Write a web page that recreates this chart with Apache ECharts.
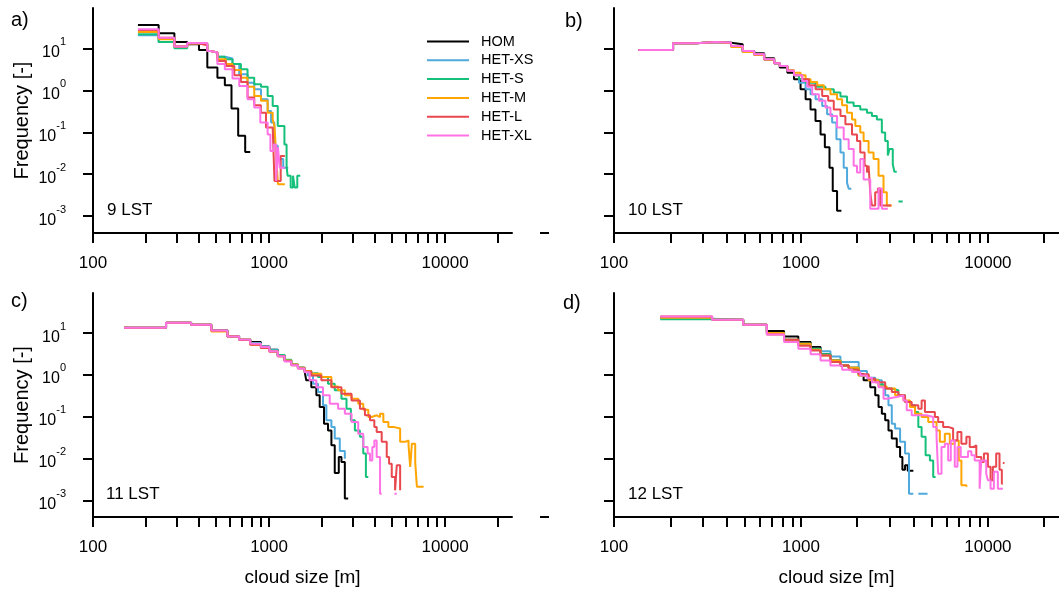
<!DOCTYPE html>
<html><head><meta charset="utf-8">
<script src="https://cdn.jsdelivr.net/npm/echarts@6/dist/echarts.min.js"></script>
<style>html,body{margin:0;padding:0;background:#fff}#c{width:1059px;height:590px}</style>
</head><body><div id="c"></div>
<script>
const seriesNames = ['HOM','HET-XS','HET-S','HET-M','HET-L','HET-XL'];
const seriesColors = ['#000000','#4FA9DC','#15C07B','#FFA500','#E8484E','#FF72E6'];
const panelLabels = ['a)','b)','c)','d)'];
const timeLabels = ['9 LST','10 LST','11 LST','12 LST'];
const xTickValues = [100,200,300,400,500,600,700,800,900,1000,2000,3000,4000,5000,6000,7000,8000,9000,10000,20000];
const xLabelValues = [100,1000,10000];
const yTickExponents = [-3,-2,-1,0,1];
const xRange = [100, 24000];
const yRange = [0.000398, 91.2];

// ---- panel a (9 LST) ----
const a_HOM = [[180,36],[236,22.8],[290,14.1],[343,12.5],[400,9.1],[446,3.47],[509,2.0],[561,1.31],[612,0.37],[668,0.082],[732,0.034],[782,0.034]];
const a_XS = [[180,20.4],[236,14.1],[290,11.0],[343,13.2],[446,8.6],[466,7.9],[509,6.3],[561,5.7],[620,4.2],[677,2.4],[755,1.52],[824,1.06],[900,0.61],[982,0.32],[1027,0.17],[1072,0.048],[1121,0.023],[1204,0.0143],[1285,0.0143]];
const a_S = [[180,21.5],[236,14.1],[290,10],[343,12.8],[446,8.6],[466,7.9],[509,6.3],[561,5.5],[620,4.2],[692,3.16],[755,2.0],[824,1.39],[900,1.22],[982,0.73],[1049,0.42],[1121,0.141],[1223,0.051],[1258,0.016],[1274,0.0092],[1327,0.0048],[1368,0.0092],[1399,0.0048],[1447,0.0092],[1505,0.0092]];
const a_M = [[180,24.5],[236,16.4],[290,11],[343,13],[446,8.6],[466,7.9],[509,5.5],[568,4.2],[620,3.05],[692,2.0],[755,1.22],[824,0.73],[900,0.56],[982,0.29],[1049,0.2],[1074,0.14],[1098,0.027],[1124,0.0058],[1230,0.0058]];
const a_L = [[180,27.3],[236,17.9],[290,11],[343,13],[400,11.8],[446,8.6],[466,7.9],[509,5.0],[568,3.8],[635,2.28],[692,1.58],[755,0.67],[824,0.44],[899,0.29],[961,0.13],[1049,0.13],[1074,0.0069],[1165,0.027],[1230,0.027]];
const a_XL = [[180,28.4],[236,17.9],[290,11],[343,13.4],[446,8.6],[466,7.9],[509,4.2],[561,3.16],[620,1.9],[677,1.27],[755,0.61],[824,0.39],[892,0.17],[982,0.089],[1018,0.036],[1063,0.051],[1098,0.0069],[1124,0.044],[1150,0.0143],[1230,0.0143]];

// ---- panel b (10 LST) ----
const b_HOM = [[135,9.1],[207,13.2],[275,14.1],[352,13.6],[423,12.5],[488,8.6],[562,7.6],[636,5.8],[719,4.4],[770,3.5],[846,2.6],[918,1.83],[995,1.06],[1059,0.61],[1125,0.35],[1196,0.186],[1273,0.089],[1342,0.044],[1421,0.0143],[1479,0.004],[1560,0.00134],[1646,0.00134]];
const b_XS = [[135,9.1],[207,13.2],[275,14.1],[352,13.6],[423,11.4],[488,8.6],[562,7.2],[636,5.5],[719,4.4],[770,3.8],[846,2.9],[918,2.28],[976,1.52],[1059,1.06],[1126,0.8],[1197,0.61],[1299,0.42],[1380,0.27],[1468,0.17],[1548,0.068],[1627,0.033],[1693,0.0143],[1764,0.0063],[1800,0.0045],[1860,0.0045]];
const b_S = [[135,9.1],[207,13.2],[275,14.1],[352,13.2],[423,11.0],[488,8.2],[562,6.9],[636,5.3],[719,4.4],[770,3.8],[846,2.9],[918,2.28],[976,1.83],[1059,1.52],[1197,1.22],[1352,1.06],[1498,0.88],[1627,0.71],[1764,0.51],[1914,0.42],[2076,0.35],[2254,0.29],[2396,0.245],[2547,0.2],[2708,0.098],[2821,0.062],[2915,0.028],[2975,0.04],[3098,0.0173],[3162,0.0114],[3254,0.0114],null,[3322,0.00224],[3502,0.00224]];
const b_M = [[135,9.1],[207,13.2],[275,14.1],[352,13.2],[423,10.8],[488,8.2],[562,6.9],[636,5.3],[719,4.4],[770,3.8],[846,3.0],[918,2.6],[995,2.28],[1059,1.83],[1126,1.58],[1222,1.31],[1326,1.06],[1438,0.8],[1560,0.61],[1660,0.44],[1764,0.29],[1875,0.2],[1954,0.14],[2076,0.098],[2163,0.062],[2300,0.033],[2445,0.023],[2600,0.0092],[2764,0.0037],[2879,0.0018],[3061,0.0018]];
const b_L = [[135,9.1],[207,13.2],[275,14.1],[352,13.6],[423,11.4],[488,8.6],[562,7.2],[636,5.5],[719,4.4],[770,3.8],[846,2.9],[918,2.28],[1016,1.83],[1103,1.31],[1197,1.06],[1299,0.73],[1398,0.56],[1498,0.35],[1627,0.245],[1728,0.155],[1875,0.089],[1994,0.062],[2076,0.033],[2190,0.016],[2254,0.011],[2300,0.016],[2348,0.0037],[2396,0.0018],[2495,0.0037],[2578,0.0046],[2653,0.0018],[3036,0.0018]];
const b_XL = [[135,9.1],[207,13.2],[275,14.1],[352,13.6],[423,11.4],[488,8.6],[562,7.2],[636,5.5],[719,4.4],[770,3.8],[846,2.9],[918,2.28],[1016,1.67],[1081,1.22],[1149,0.8],[1247,0.56],[1352,0.39],[1438,0.245],[1560,0.13],[1693,0.068],[1800,0.04],[1914,0.016],[1994,0.011],[2076,0.023],[2163,0.0075],[2348,0.0015],[2600,0.0046],[2708,0.0015],[2915,0.0015]];

// ---- panel c (11 LST) ----
const c_HOM = [[150,13.4],[260,17.7],[361,15.8],[470,11.6],[580,8.3],[676,7.06],[782,6.1],[899,4.8],[1004,4.0],[1121,2.93],[1225,2.22],[1337,1.78],[1459,1.48],[1592,1.24],[1627,0.74],[1738,0.51],[1857,0.324],[1940,0.17],[2053,0.068],[2163,0.047],[2261,0.0206],[2362,0.0045],[2490,0.0109],[2578,0.0082],[2695,0.0011],[2816,0.0011]];
const c_XS = [[150,13.4],[260,17.7],[361,15.8],[470,11.6],[580,8.3],[676,7.06],[782,5.8],[899,4.8],[1004,4.0],[1121,3.0],[1225,2.22],[1337,1.78],[1459,1.48],[1592,1.24],[1663,0.97],[1777,0.615],[1897,0.39],[2026,0.187],[2117,0.082],[2261,0.057],[2362,0.03],[2523,0.0151],[2695,0.0099]];
const c_S = [[150,13.4],[260,17.7],[361,15.8],[470,11.6],[580,8.3],[676,7.06],[782,5.56],[899,4.63],[1004,3.85],[1121,3.0],[1225,2.3],[1337,1.78],[1459,1.48],[1592,1.24],[1738,1.1],[1897,0.89],[2163,0.615],[2362,0.43],[2578,0.27],[2755,0.155],[2916,0.082],[3074,0.047],[3283,0.033],[3430,0.0131],[3550,0.0036],[3664,0.0036]];
const c_M = [[150,13.4],[260,17.7],[361,15.8],[470,11.0],[580,8.3],[676,7.06],[782,5.3],[899,4.4],[1004,3.7],[1121,2.8],[1225,2.22],[1337,1.78],[1459,1.48],[1592,1.24],[1738,1.07],[1982,0.89],[2261,0.53],[2469,0.43],[2695,0.324],[2942,0.27],[3211,0.205],[3430,0.147],[3664,0.098],[3828,0.108],[4088,0.098],[4272,0.118],[4461,0.075],[4764,0.057],[5088,0.052],[5556,0.025],[5934,0.027],[6201,0.0206],[6339,0.0063],[6478,0.0226],[6767,0.0082],[6918,0.0021],[7551,0.0021]];
const c_L = [[150,13.4],[260,17.7],[361,15.8],[470,11.6],[580,8.3],[676,6.8],[782,5.3],[899,4.4],[1004,3.6],[1121,2.8],[1225,2.15],[1337,1.7],[1459,1.42],[1592,1.2],[1738,0.97],[1982,0.74],[2261,0.51],[2578,0.355],[2942,0.245],[3283,0.155],[3506,0.108],[3744,0.082],[3964,0.057],[4088,0.043],[4365,0.025],[4662,0.0109],[4808,0.0075],[4978,0.0036],[5200,0.00173],[5317,0.0069],[5556,0.00173]];
const c_XL = [[150,13.4],[260,17.7],[361,15.8],[470,11.6],[580,8.3],[676,7.06],[782,5.56],[899,4.63],[1004,3.7],[1121,2.8],[1225,2.1],[1337,1.7],[1459,1.42],[1592,1.15],[1700,0.74],[1856,0.51],[2026,0.324],[2212,0.205],[2469,0.155],[2695,0.118],[2942,0.075],[3211,0.039],[3430,0.0188],[3631,0.0131],[3744,0.009],[3861,0.0188],[3964,0.027],[4088,0.0109],[4272,0.00144],[4365,0.00144],null,[5156,0.00144],[5317,0.00144]];

// ---- panel d (12 LST) ----
const d_HOM = [[177,23.3],[335,20.8],[491,15.8],[657,11.2],[812,8.3],[968,6.1],[1126,4.63],[1273,3.1],[1438,2.22],[1626,1.69],[1800,1.48],[2035,1.03],[2163,0.74],[2348,0.51],[2495,0.324],[2600,0.17],[2708,0.118],[2821,0.082],[2938,0.047],[3061,0.03],[3254,0.0188],[3390,0.0109],[3488,0.0054],[3604,0.0069],[3724,0.0051],[3991,0.0051]];
const d_XS = [[177,22],[335,20.8],[491,15.8],[657,10],[812,6.9],[968,5.6],[1126,4.2],[1273,3.7],[1438,2.77],[1626,2.03],[2035,1.24],[2254,0.855],[2495,0.74],[2708,0.53],[2821,0.324],[2938,0.187],[3061,0.068],[3188,0.052],[3390,0.025],[3604,0.0131],[3784,0.00144],[3991,0.00144],null,[4243,0.00144],[4754,0.00144]];
const d_S = [[177,21.6],[335,20.8],[491,15.8],[657,10],[812,6.9],[968,5.6],[1126,4.2],[1273,3.1],[1438,2.22],[1626,1.69],[1800,1.48],[2035,0.97],[2300,0.77],[2600,0.59],[2821,0.47],[3061,0.43],[3321,0.324],[3604,0.224],[3879,0.187],[4074,0.129],[4243,0.057],[4419,0.033],[4642,0.0119],[4894,0.009],[5098,0.0036],[5248,0.0036]];
const d_M = [[177,23.3],[335,20.8],[491,15.8],[657,10],[812,6.9],[968,5.6],[1126,4.0],[1273,2.9],[1438,2.22],[1626,1.69],[1800,1.48],[2035,0.97],[2300,0.74],[2600,0.53],[2879,0.47],[3188,0.324],[3532,0.245],[3831,0.17],[4074,0.118],[4419,0.098],[4795,0.075],[5311,0.047],[5532,0.025],[5882,0.039],[6253,0.0226],[6648,0.027],[6983,0.009],[7213,0.0023],[7672,0.0021]];
const d_L = [[177,25],[335,20.8],[491,15.8],[657,9.3],[812,6.9],[968,5.0],[1126,3.85],[1273,2.93],[1438,2.03],[1626,1.69],[1800,1.33],[2035,1.03],[2300,0.81],[2495,0.67],[2821,0.47],[3061,0.39],[3321,0.324],[3604,0.224],[3910,0.187],[4243,0.155],[4419,0.245],[4603,0.129],[4894,0.129],[5204,0.098],[5420,0.075],[5762,0.057],[6127,0.052],[6513,0.027],[6870,0.043],[7213,0.0226],[7672,0.033],[7992,0.0188],[8324,0.0206],[8670,0.0109],[9215,0.0082],[9522,0.0131],[10000,0.0063],[10332,0.003],[10631,0.0063],[11073,0.0131],[11535,0.0054],[11871,0.0025],[12017,0.0025],null,[12017,0.0078],[12265,0.0078]];
const d_XL = [[177,25],[335,20.8],[491,15.8],[657,9.3],[812,6.1],[968,4.2],[1126,3.1],[1273,2.22],[1438,1.69],[1660,1.33],[1875,1.17],[2077,0.97],[2254,0.855],[2396,0.67],[2600,0.51],[2764,0.27],[2879,0.295],[3254,0.324],[3532,0.245],[3678,0.142],[3910,0.108],[4330,0.108],[4698,0.098],[5098,0.057],[5311,0.033],[5420,0.0043],[5646,0.0188],[5882,0.0226],[6127,0.009],[6330,0.027],[6648,0.0063],[6870,0.0188],[7156,0.0109],[7516,0.0109],[7830,0.015],[8156,0.0119],[8495,0.009],[9030,0.0019],[9215,0.009],[9795,0.0043],[10000,0.003],[10332,0.0019],[10764,0.0048],[11302,0.0019],[12017,0.0019]];

const panelSeries = [
  [a_HOM,a_XS,a_S,a_M,a_L,a_XL],
  [b_HOM,b_XS,b_S,b_M,b_L,b_XL],
  [c_HOM,c_XS,c_S,c_M,c_L,c_XL],
  [d_HOM,d_XS,d_S,d_M,d_L,d_XL]
];

const FONT = 'Liberation Sans, Arial, Helvetica, sans-serif';
const grids = [
  {left:93, top:8, width:419, height:225},
  {left:614, top:8, width:445, height:225},
  {left:93, top:293, width:419, height:224},
  {left:614, top:293, width:445, height:224}
];
const xAxes = [], yAxes = [], series = [];
const axisLineStyle = {color:'#000', width:2};
grids.forEach((g, i) => {
  xAxes.push({type:'log', logBase:10, gridIndex:i, min:xRange[0], max:xRange[1], show:false, position:'top'});
  xAxes.push({
    type:'value', gridIndex:i, position:'bottom',
    min:Math.log10(xRange[0]), max:Math.log10(xRange[1]),
    axisLine:{show:true, onZero:false, lineStyle:axisLineStyle},
    axisTick:{show:true, customValues:xTickValues.map(Math.log10), length:10, lineStyle:axisLineStyle},
    axisLabel:{customValues:xLabelValues.map(Math.log10), formatter:v => String(Math.round(Math.pow(10, v))),
      fontSize:17, color:'#000', margin:22, fontFamily:FONT},
    splitLine:{show:false},
    name: i >= 2 ? 'cloud size [m]' : '', nameLocation:'middle', nameGap:51,
    nameTextStyle:{fontSize:19, color:'#000', fontFamily:FONT}
  });
  yAxes.push({type:'log', logBase:10, gridIndex:i, min:yRange[0], max:yRange[1], show:false, position:'right'});
  yAxes.push({
    type:'value', gridIndex:i, position:'left',
    min:Math.log10(yRange[0]), max:Math.log10(yRange[1]),
    axisLine:{show:true, onZero:false, lineStyle:axisLineStyle},
    axisTick:{show:true, customValues:yTickExponents, length:10, lineStyle:axisLineStyle},
    axisLabel:{show: i % 2 === 0, customValues:yTickExponents, fontSize:16, color:'#000', fontFamily:FONT,
      formatter:v => '{b|10}{s|' + Math.round(v) + '}', margin:27, align:'right',
      rich:{
        b:{fontSize:16, color:'#000', fontFamily:FONT, lineHeight:24, verticalAlign:'bottom'},
        s:{fontSize:11, color:'#000', fontFamily:FONT, lineHeight:12, verticalAlign:'top'}
      }},
    splitLine:{show:false},
    name: i % 2 === 0 ? 'Frequency [-]' : '', nameLocation:'middle', nameGap:61,
    nameTextStyle:{fontSize:20, color:'#000', fontFamily:FONT}
  });
  panelSeries[i].forEach((arr, j) => {
    series.push({
      type:'line', name:seriesNames[j], xAxisIndex:2*i, yAxisIndex:2*i,
      data: arr.map(p => p ? p : ['-','-']),
      step:'end', showSymbol:false, symbol:'none', connectNulls:false,
      lineStyle:{width:2, color:seriesColors[j]}, itemStyle:{color:seriesColors[j]},
      animation:false, emphasis:{disabled:true}
    });
  });
});

const graphics = [];
const letterPos = [[11,20],[565,21],[11,301],[563,303]];
const timePos = [[107,210],[628,210],[106,494],[628,494]];
panelLabels.forEach((t, i) => {
  graphics.push({type:'text', x:letterPos[i][0], y:letterPos[i][1],
    style:{text:t, fontSize:20, fontFamily:FONT, fill:'#000', verticalAlign:'middle'}});
  graphics.push({type:'text', x:timePos[i][0], y:timePos[i][1],
    style:{text:timeLabels[i], fontSize:17, fontFamily:FONT, fill:'#000', verticalAlign:'middle'}});
});
graphics.push({type:'line', shape:{x1:540, y1:233, x2:549, y2:233}, style:{stroke:'#000', lineWidth:2}});
graphics.push({type:'line', shape:{x1:540, y1:517, x2:549, y2:517}, style:{stroke:'#000', lineWidth:2}});

const chart = echarts.init(document.getElementById('c'), null, {renderer:'canvas'});
chart.setOption({
  backgroundColor:'#fff',
  animation:false,
  grid:grids,
  xAxis:xAxes,
  yAxis:yAxes,
  legend:{data:seriesNames, orient:'vertical', left:427, top:34, padding:0,
    icon:'rect', itemWidth:42, itemHeight:2, itemGap:3.8, selectedMode:false,
    textStyle:{fontSize:14.5, color:'#000', lineHeight:14, fontFamily:FONT, padding:[0,0,0,7]}},
  graphic:graphics,
  series:series
});
</script></body></html>
